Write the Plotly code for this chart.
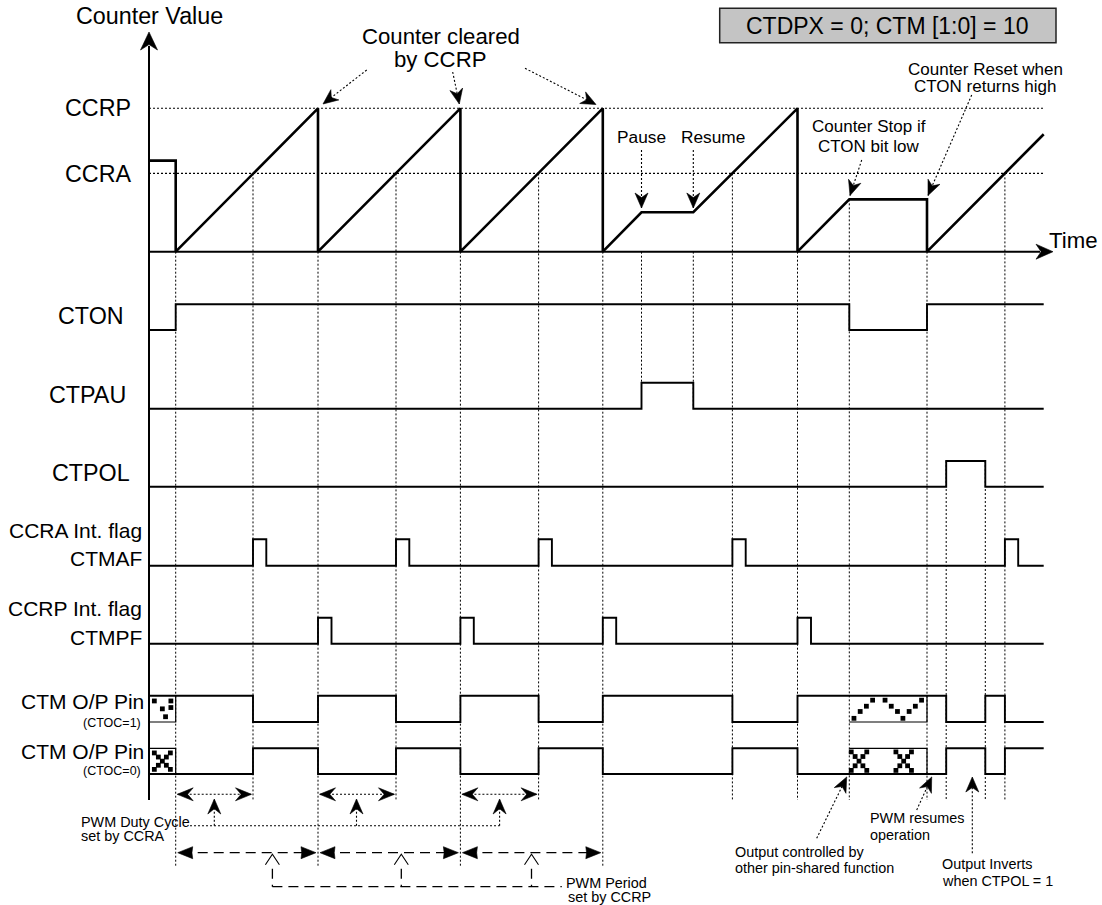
import math
import plotly.graph_objects as go

FONT = "Liberation Sans, Arial, Helvetica, sans-serif"
W, H = 1102, 905

# ---------------- data: event times (time-axis units) ----------------
T_ORIGIN = 149.0
T_END = 1043.7
T_CCRA_MATCH = [253.0, 396.0, 538.6, 732.4, 1004.9]
T_CCRP_MATCH = [318.0, 460.4, 602.8, 797.5]
T_PAUSE, T_RESUME = 641.5, 693.3
T_STOP, T_RESTART = 849.3, 927.0
T_POL_ON, T_POL_OFF = 946.2, 985.3
T_START = 175.7

# counter waveform (counts, CCRP = 100)
CCRP = 100.0
CCRA = 54.6
CNT_T = [149.0, 175.7, 175.7, 318.0, 318.0, 460.4, 460.4, 602.8, 602.8,
         641.5, 693.3, 797.5, 797.5, 849.3, 927.0, 927.0, 1043.7]
CNT_V = [63.5, 63.5, 0, 100, 0, 100, 0, 100, 0,
         27.5, 27.5, 100, 0, 36.5, 36.5, 0, 81.9]

# digital signals (transition times, levels)
CTON_T = [149.0, 175.7, 849.3, 927.0, 1043.7]
CTON_V = [0, 1, 0, 1, 1]
CTPAU_T = [149.0, 641.5, 693.3, 1043.7]
CTPAU_V = [0, 1, 0, 0]
CTPOL_T = [149.0, 946.2, 985.3, 1043.7]
CTPOL_V = [0, 1, 0, 0]
CTMAF_T = [149.0, 253.0, 266.3, 396.0, 409.3, 538.6, 551.9, 732.4, 745.7, 1004.9, 1018.2, 1043.7]
CTMAF_V = [0, 1, 0, 1, 0, 1, 0, 1, 0, 1, 0, 0]
CTMPF_T = [149.0, 318.0, 331.5, 460.4, 473.8, 602.8, 616.2, 797.5, 811.0, 1043.7]
CTMPF_V = [0, 1, 0, 1, 0, 1, 0, 1, 0, 0]
PIN1_T = [149.0, 253.0, 318.0, 396.0, 460.4, 538.6, 602.8, 732.4, 797.5, 946.2, 985.3, 1004.9, 1043.7]
PIN1_V = [1, 0, 1, 0, 1, 0, 1, 0, 1, 0, 1, 0, 0]
PIN0_V = [1 - v for v in PIN1_V]

# ---------------- layout geometry (pixels) ----------------
Y_AXIS = 251.7          # counter = 0
PX_PER_COUNT = 1.434
Y2_TOP = Y_AXIS / PX_PER_COUNT
Y2_BOT = -(H - Y_AXIS) / PX_PER_COUNT
ROWS = {  # (low, high) pixel rows
    "CTON": (330.0, 304.3),
    "CTPAU": (408.7, 382.7),
    "CTPOL": (486.7, 461.0),
    "CTMAF": (565.7, 539.3),
    "CTMPF": (643.7, 617.7),
    "PIN1": (722.0, 695.7),
    "PIN0": (774.0, 748.3),
}


def cnt_px(c):
    return Y_AXIS - c * PX_PER_COUNT


def lvl(row, v):
    lo, hi = ROWS[row]
    return lo - v * (lo - hi)


fig = go.Figure()


def line(xs, ys, width=1.6, dash=None, shape="linear", yaxis="y", color="black"):
    fig.add_trace(go.Scatter(x=xs, y=ys, mode="lines", yaxis=yaxis,
                             line=dict(color=color, width=width, dash=dash, shape=shape),
                             hoverinfo="skip", showlegend=False))


heads = {"x": [], "y": []}


def head(tip, frm, L=15, Wd=13, notch=0.3):
    dx, dy = tip[0] - frm[0], tip[1] - frm[1]
    n = math.hypot(dx, dy)
    ux, uy = dx / n, dy / n
    px, py = -uy, ux
    bx, by = tip[0] - ux * L, tip[1] - uy * L
    nx, ny = tip[0] - ux * L * (1 - notch), tip[1] - uy * L * (1 - notch)
    pts = [tip, (bx + px * Wd / 2, by + py * Wd / 2), (nx, ny),
           (bx - px * Wd / 2, by - py * Wd / 2), tip]
    for p in pts:
        heads["x"].append(p[0]); heads["y"].append(p[1])
    heads["x"].append(None); heads["y"].append(None)


def arrow(frm, tip, dash="2px,2px", width=1.1, **kw):
    line([frm[0], tip[0]], [frm[1], tip[1]], width=width, dash=dash)
    head(tip, frm, **kw)


DOT = "2px,2px"

# ---- reference levels CCRP / CCRA ----
line([T_ORIGIN, T_END], [CCRP, CCRP], width=1.1, dash=DOT, yaxis="y2")
line([T_ORIGIN, T_END], [CCRA, CCRA], width=1.1, dash=DOT, yaxis="y2")

# ---- dotted vertical event lines ----
vx, vy = [], []


def vline(t, y0, y1):
    vx.extend([t, t, None]); vy.extend([y0, y1, None])


for t in [T_START] + T_CCRP_MATCH[:3]:
    vline(t, Y_AXIS, 866.7)
for t in T_CCRA_MATCH:
    vline(t, cnt_px(CCRA), 800)
for t in [T_PAUSE, T_RESUME]:
    vline(t, Y_AXIS, ROWS["CTPAU"][0])
vline(T_CCRP_MATCH[3], Y_AXIS, 800)
vline(T_STOP, cnt_px(36.5), 800)
vline(T_RESTART, Y_AXIS, 800)
for t in [T_POL_ON, T_POL_OFF]:
    vline(t, ROWS["CTPOL"][1], 800)
line(vx, vy, width=1.0, dash=DOT)

# ---- axes ----
line([T_ORIGIN, T_ORIGIN], [800, 46], width=2.0)
head((T_ORIGIN, 32), (T_ORIGIN, 60), L=18, Wd=17, notch=0.3)
line([T_ORIGIN, 1040], [Y_AXIS, Y_AXIS], width=2.0)
head((1053, Y_AXIS), (1000, Y_AXIS), L=17, Wd=15, notch=0.3)

# ---- counter ----
line(CNT_T, CNT_V, width=2.6, yaxis="y2")

# ---- digital signals ----
for name, ts, vs in [("CTON", CTON_T, CTON_V), ("CTPAU", CTPAU_T, CTPAU_V),
                     ("CTPOL", CTPOL_T, CTPOL_V), ("CTMAF", CTMAF_T, CTMAF_V),
                     ("CTMPF", CTMPF_T, CTMPF_V), ("PIN1", PIN1_T, PIN1_V),
                     ("PIN0", PIN1_T, PIN0_V)]:
    line(ts, [lvl(name, v) for v in vs], width=1.9, shape="hv")

# ---- undefined-output boxes on the pins ----
bx, by = [], []
for (a, b) in [(T_ORIGIN, T_START), (T_STOP, T_RESTART)]:
    bx += [a, b, b, None]; by += [ROWS["PIN1"][0], ROWS["PIN1"][0], ROWS["PIN1"][1], None]
    bx += [a, b, b, None]; by += [ROWS["PIN0"][1], ROWS["PIN0"][1], ROWS["PIN0"][0], None]
line(bx, by, width=1.2)

sqx, sqy = [], []


def pattern(a, b, row, pts):
    lo, hi = ROWS[row]
    for fx, fy in pts:
        sqx.append(a + fx * (b - a)); sqy.append(hi + fy * (lo - hi))


X_PAT = [(0.2, 0.18), (0.8, 0.18), (0.5, 0.5), (0.2, 0.82), (0.8, 0.82),
         (0.35, 0.34), (0.65, 0.34), (0.35, 0.66), (0.65, 0.66)]
pattern(T_ORIGIN, T_START, "PIN1", [(0.2, 0.2), (0.5, 0.5), (0.82, 0.45), (0.62, 0.8), (0.82, 0.2)])
pattern(T_ORIGIN, T_START, "PIN0", X_PAT)
pattern(T_STOP, T_RESTART, "PIN1",
        [(0.06, 0.86), (0.14, 0.6), (0.22, 0.4), (0.30, 0.17), (0.46, 0.17), (0.54, 0.4),
         (0.62, 0.6), (0.69, 0.86), (0.77, 0.6), (0.85, 0.4), (0.93, 0.17)])
for cx in (0.125, 0.7):
    for fx, fy in [(-0.1, 0.14), (0.1, 0.14), (0.0, 0.5), (-0.1, 0.86), (0.1, 0.86),
                   (-0.05, 0.32), (0.05, 0.32), (-0.05, 0.68), (0.05, 0.68)]:
        pattern(T_STOP, T_RESTART, "PIN0", [(cx + fx, fy)])
fig.add_trace(go.Scatter(x=sqx, y=sqy, mode="markers", hoverinfo="skip", showlegend=False,
                         marker=dict(symbol="square", size=4.8, color="black", line=dict(width=0))))

# ---- annotation arrows (top) ----
arrow((366.7, 70), (323, 104))
arrow((452.7, 72), (459.3, 104))
arrow((525, 68.3), (596, 104.5))
arrow((T_PAUSE, 150), (T_PAUSE, 208))
arrow((T_RESUME, 150), (T_RESUME, 208))
arrow((861.7, 160), (850, 195.5))
arrow((971.7, 95), (928, 195.5))

# ---- duty cycle arrows ----
Y_DUTY = 794.3
DUTY_MID = [214.3, 356.5, 499.6]
pairs = [(T_START, T_CCRA_MATCH[0]), (T_CCRP_MATCH[0], T_CCRA_MATCH[1]), (T_CCRP_MATCH[1], T_CCRA_MATCH[2])]
for (a, b), m in zip(pairs, DUTY_MID):
    line([a + 2, b - 2], [Y_DUTY, Y_DUTY], width=1.1, dash=DOT)
    head((a + 1.5, Y_DUTY), (m, Y_DUTY), L=16, Wd=13, notch=0.35)
    head((b - 1.5, Y_DUTY), (m, Y_DUTY), L=16, Wd=13, notch=0.35)
    arrow((m, 825.7), (m, 799), L=15, Wd=13, notch=0.35)
line([190, DUTY_MID[-1]], [825.7, 825.7], width=1.1, dash=DOT)

# ---- period arrows ----
Y_PER = 852.7
PER_MID = [272.4, 401.3, 531.5]
per_pairs = [(T_START, T_CCRP_MATCH[0]), (T_CCRP_MATCH[0], T_CCRP_MATCH[1]), (T_CCRP_MATCH[1], T_CCRP_MATCH[2])]
DASH = "10px,6px"
for (a, b), m in zip(per_pairs, PER_MID):
    line([a + 6, b - 6], [Y_PER, Y_PER], width=1.3, dash=DASH)
    head((a + 2, Y_PER), (m, Y_PER), L=15, Wd=12, notch=0.05)
    head((b - 2, Y_PER), (m, Y_PER), L=15, Wd=12, notch=0.05)
    line([m - 7, m, m + 7], [Y_PER + 12, Y_PER + 1.5, Y_PER + 12], width=1.1)
    line([m, m], [Y_PER + 16, 886.7], width=1.3, dash=DASH)
line([PER_MID[0], 561.8], [886.7, 886.7], width=1.3, dash=DASH)

# ---- bottom-right annotation arrows ----
arrow((816.7, 838.3), (846.7, 777))
arrow((916.7, 810), (931.7, 777))
arrow((972.3, 853.3), (972.3, 777))

fig.add_trace(go.Scatter(x=heads["x"], y=heads["y"], mode="lines", fill="toself",
                         fillcolor="black", line=dict(color="black", width=0.6),
                         hoverinfo="skip", showlegend=False))

# ---------------- texts ----------------
TEXTS = [
    ("Counter Value", 149.4, 16, 23.3, "center"),
    ("CCRP", 97.5, 107.7, 23.3, "center"),
    ("CCRA", 97.8, 173.5, 23.3, "center"),
    ("CTON", 90.9, 316, 23.3, "center"),
    ("CTPAU", 87, 395, 23.3, "center"),
    ("CTPOL", 91, 472.5, 23.3, "center"),
    ("CCRA Int. flag", 144, 530, 21, "right"),
    ("CTMAF", 144, 558.5, 21, "right"),
    ("CCRP Int. flag", 144, 608.5, 21, "right"),
    ("CTMPF", 144, 637, 21, "right"),
    ("CTM O/P Pin", 146, 701, 21, "right"),
    ("(CTOC=1)", 143, 722.5, 12.5, "right"),
    ("CTM O/P Pin", 146, 751, 21, "right"),
    ("(CTOC=0)", 143, 770.5, 12.5, "right"),
    ("PWM Duty Cycle", 78.8, 822, 14.4, "left"),
    ("set by CCRA", 78.8, 836, 14.4, "left"),
    ("PWM Period", 564, 882.7, 14.4, "left"),
    ("set by CCRP", 566, 896.7, 14.4, "left"),
    ("Output controlled by", 732.7, 851.7, 14.4, "left"),
    ("other pin-shared function", 732.7, 868.3, 14.4, "left"),
    ("PWM resumes", 868.3, 818.3, 14.4, "left"),
    ("operation", 868.3, 835, 14.4, "left"),
    ("Output Inverts", 940, 864, 14.4, "left"),
    ("when CTPOL = 1", 940, 880.7, 14.4, "left"),
    ("Pause", 641.5, 136.7, 17.3, "center"),
    ("Resume", 712.7, 136.7, 17.3, "center"),
    ("Counter Stop if", 868.7, 126.7, 17, "center"),
    ("CTON bit low", 868.7, 146.7, 17, "center"),
    ("Counter Reset when", 985, 69.5, 17, "center"),
    ("CTON returns high", 985, 86, 17, "center"),
    ("Counter cleared", 440.5, 36, 22.2, "center"),
    ("by CCRP", 439.7, 59, 22.2, "center"),
    ("Time", 1046.5, 240, 22.2, "left"),
    ("CTDPX = 0; CTM [1:0] = 10", 887.9, 25.5, 23, "center"),
]
annotations = [dict(text=t, x=x, y=y, xref="x", yref="y", showarrow=False,
                    xanchor=a, yanchor="middle", font=dict(family=FONT, size=s, color="black"))
               for t, x, y, s, a in TEXTS]

shapes = [dict(type="rect", xref="x", yref="y", x0=719.7, x1=1056, y0=8.3, y1=42.7,
               fillcolor="#c4c4c4", line=dict(color="#222222", width=1.5), layer="below")]

fig.update_layout(
    width=W, height=H, autosize=False,
    margin=dict(l=0, r=0, t=0, b=0, pad=0),
    paper_bgcolor="white", plot_bgcolor="white",
    xaxis=dict(range=[0, W], visible=False, fixedrange=True),
    yaxis=dict(range=[H, 0], visible=False, fixedrange=True),
    yaxis2=dict(range=[Y2_BOT, Y2_TOP], overlaying="y", visible=False, fixedrange=True),
    annotations=annotations, shapes=shapes, showlegend=False,
)

fig.write_html("out.html", config={"displayModeBar": False, "staticPlot": True},
               post_script="document.body.style.margin='0';document.body.style.overflow='hidden';")
